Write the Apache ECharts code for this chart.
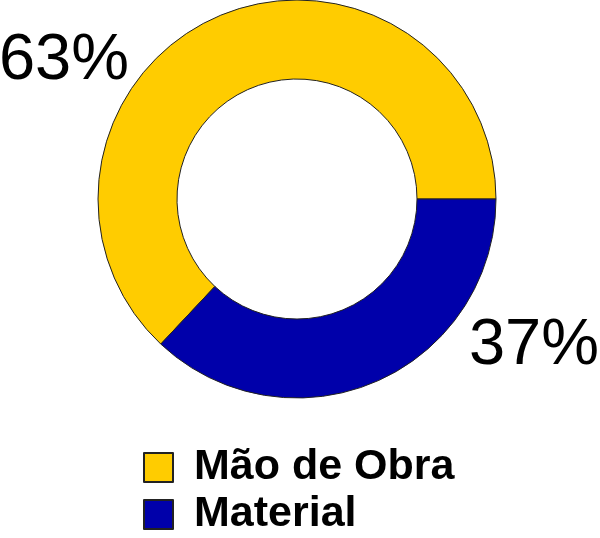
<!DOCTYPE html>
<html><head><meta charset="utf-8">
<script src="https://cdn.jsdelivr.net/npm/echarts@6/dist/echarts.min.js"></script>
<style>html,body{margin:0;padding:0;background:#fff}#c{width:600px;height:538px}</style>
</head><body><div id="c"></div>
<script>
const categories = ['Mão de Obra', 'Material'];
const values = [63, 37];
const colors = ['#FFCC00', '#0000AA'];

const chart = echarts.init(document.getElementById('c'), null, {renderer: 'canvas'});
const labelSpots = [[64, 61], [534, 346]];
chart.setOption({
  animation: false,
  backgroundColor: '#ffffff',
  legend: {
    orient: 'vertical',
    left: 138,
    top: 441,
    width: 400,
    height: 200,
    itemWidth: 29,
    itemHeight: 29,
    itemGap: 4,
    icon: 'rect',
    selectedMode: false,
    textStyle: {fontFamily: 'Liberation Sans', fontSize: 43, fontWeight: 'bold', color: '#000', padding: [0, 0, 0, 16]},
    data: categories
  },
  series: [{
    type: 'pie',
    center: [297, 199],
    radius: [120, 199],
    startAngle: 0,
    clockwise: false,
    avoidLabelOverlap: false,
    emphasis: {disabled: true},
    itemStyle: {borderColor: '#222', borderWidth: 1},
    label: {
      show: true,
      position: 'outside',
      formatter: '{c}%',
      fontFamily: 'Liberation Sans',
      fontSize: 65,
      color: '#000'
    },
    labelLine: {show: false},
    labelLayout: function (p) {
      const s = labelSpots[p.dataIndex];
      return {x: s[0], y: s[1], align: 'center', verticalAlign: 'middle'};
    },
    data: categories.map((n, i) => ({name: n, value: values[i], itemStyle: {color: colors[i]}}))
  }]
});
</script></body></html>
